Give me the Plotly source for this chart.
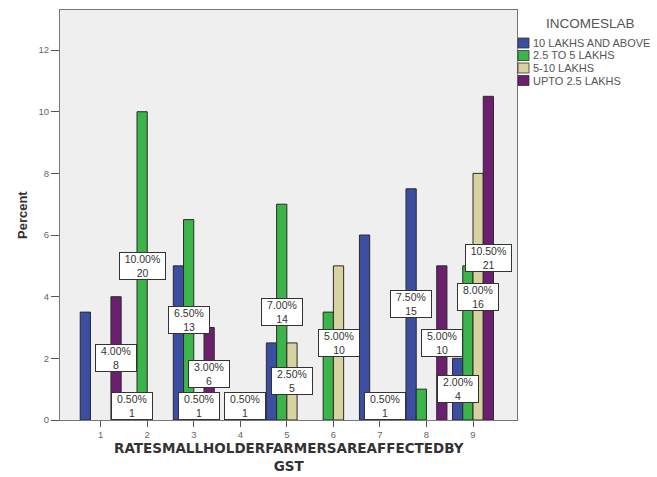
import plotly.graph_objects as go

# Rates at which smallholder farmers are affected by GST, by income slab
categories = [1, 2, 3, 4, 5, 6, 7, 8, 9]
series_names = ["10 LAKHS AND ABOVE", "2.5 TO 5 LAKHS", "5-10 LAKHS", "UPTO 2.5 LAKHS"]
pct_10_and_above = [3.5, 0.5, 5.0, None, 2.5, None, 6.0, 7.5, 2.0]
pct_2_5_to_5 = [None, 10.0, 6.5, 0.5, 7.0, 3.5, None, 1.0, 5.0]
pct_5_to_10 = [None, None, 0.5, 0.5, 2.5, 5.0, 0.5, None, 8.0]
pct_upto_2_5 = [4.0, None, 3.0, None, None, None, None, 5.0, 10.5]
n_respondents = 200
y_ticks = [0, 2, 4, 6, 8, 10, 12]
x_title_lines = ["RATESMALLHOLDERFARMERSAREAFFECTEDBY", "GST"]
y_title = "Percent"

# categories whose bars carry a value label, per series
labelled_categories = [
    [2, 8, 9],
    [2, 3, 5],
    [3, 4, 5, 6, 7, 9],
    [1, 3, 8, 9],
]

series_values = [pct_10_and_above, pct_2_5_to_5, pct_5_to_10, pct_upto_2_5]
colors = ["#3b4ea2", "#3bb44a", "#d8d2a0", "#6c1f6e"]

FONT = "Arial, Liberation Sans, sans-serif"
W, H = 657, 477
ML, MR, MT, MB = 60, 140, 10, 57
plot_w = W - ML - MR
plot_h = H - MT - MB

bar_w = 0.22
start = -2 * bar_w

fig = go.Figure()
annotations = []

for i, (name, vals) in enumerate(zip(series_names, series_values)):
    off = start + i * bar_w
    fig.add_trace(go.Bar(
        x=categories, y=vals, name=name,
        width=bar_w, offset=off,
        marker=dict(color=colors[i], line=dict(color="#2a2a2a", width=1)),
        showlegend=False,
    ))
    for cat in labelled_categories[i]:
        v = vals[categories.index(cat)]
        count = round(v * n_respondents / 100)
        half = v / 2
        low = half < 0.45
        annotations.append(dict(
            x=cat + off + bar_w / 2, y=0 if low else half,
            xref="x", yref="y",
            xanchor="center", yanchor="bottom" if low else "middle",
            text=f"{v:.2f}%<br>{count}",
            showarrow=False,
            font=dict(family=FONT, size=10.5, color="#333333"),
            bgcolor="white", bordercolor="#333333", borderwidth=1, borderpad=1,
            width=43 if v >= 10 else 38, height=24,
        ))


def px_x(px):
    return (px - ML) / plot_w


def px_y(py):
    return (H - MB - py) / plot_h


# legend drawn beside the plot frame
shapes = []
annotations.append(dict(
    x=px_x(590), y=px_y(23), xref="paper", yref="paper",
    xanchor="center", yanchor="middle", text="INCOMESLAB", showarrow=False,
    font=dict(family=FONT, size=13.5, color="#555555"),
))
for i, name in enumerate(series_names):
    cy = 43 + i * 12.5
    shapes.append(dict(
        type="rect", xref="paper", yref="paper",
        x0=px_x(518), x1=px_x(529), y0=px_y(cy + 5), y1=px_y(cy - 5),
        fillcolor=colors[i], line=dict(color="#333333", width=0.8),
    ))
    annotations.append(dict(
        x=px_x(531), y=px_y(cy), xref="paper", yref="paper",
        xanchor="left", yanchor="middle", text=name, showarrow=False,
        font=dict(family=FONT, size=11, color="#555555"),
    ))

# axis titles
annotations.append(dict(
    x=0.5, y=px_y(476), xref="paper", yref="paper",
    xanchor="center", yanchor="bottom", showarrow=False,
    text="<br>".join(f"<b>{line}</b>" for line in x_title_lines),
    font=dict(family="DejaVu Sans, Arial, sans-serif", size=13.5, color="#333333"),
))
annotations.append(dict(
    x=px_x(22), y=0.5, xref="paper", yref="paper",
    xanchor="center", yanchor="middle", showarrow=False, textangle=-90,
    text=f"<b>{y_title}</b>",
    font=dict(family=FONT, size=13, color="#333333"),
))

x_lo = 1 - (100.7 - ML) / 46.54
x_hi = 9 + (517 - 473) / 46.54

fig.update_layout(
    width=W, height=H,
    margin=dict(l=ML, r=MR, t=MT, b=MB, pad=0, autoexpand=False),
    paper_bgcolor="white", plot_bgcolor="#efefef",
    barmode="overlay",
    font=dict(family=FONT, color="#555555"),
    annotations=annotations,
    shapes=shapes,
    xaxis=dict(
        range=[x_lo, x_hi], tickmode="array", tickvals=categories,
        ticktext=[str(c) for c in categories],
        ticks="outside", ticklen=6, tickcolor="#555555",
        showline=True, linecolor="#777777", linewidth=1, mirror=True,
        showgrid=False, zeroline=False, automargin=False,
        tickfont=dict(size=9.5, color="#666666"),
    ),
    yaxis=dict(
        range=[0, 13.3], tickvals=y_ticks,
        ticks="outside", ticklen=8, tickcolor="#555555",
        showline=True, linecolor="#777777", linewidth=1, mirror=True,
        showgrid=False, zeroline=False, automargin=False,
        tickfont=dict(size=9.5, color="#666666"),
    ),
)

fig.write_html("out.html")
